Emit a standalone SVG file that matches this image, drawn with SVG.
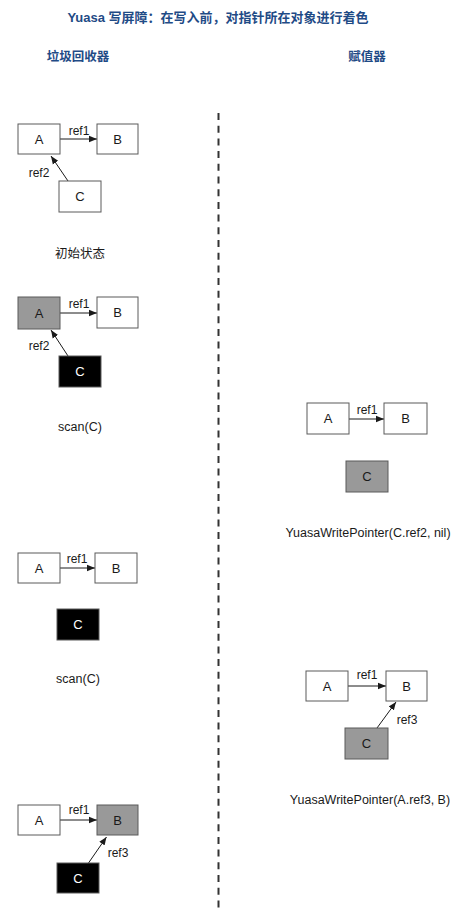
<svg xmlns="http://www.w3.org/2000/svg" width="469" height="912" viewBox="0 0 469 912">
<style>
text{font-family:"Liberation Sans","Noto Sans CJK SC",Arial,sans-serif;fill:#1a1a1a;}
.title{font-size:13px;font-weight:bold;fill:#1f4b86;}
.hdr{font-size:12.5px;font-weight:bold;fill:#1f4b86;}
.box{stroke:#5a5a5a;stroke-width:1;}
.w{fill:#ffffff;}
.g{fill:#999999;}
.k{fill:#000000;}
.lbl{font-size:12px;text-anchor:middle;}
.nl{font-size:13px;text-anchor:middle;}
.cap{font-size:12.5px;text-anchor:middle;}
.wt{fill:#ffffff;}
.edge{stroke:#1a1a1a;stroke-width:1;fill:none;marker-end:url(#ah);}
</style>
<defs>
<marker id="ah" viewBox="0 0 10 10" refX="10" refY="5" markerWidth="8" markerHeight="8" markerUnits="userSpaceOnUse" orient="auto">
<path d="M0,1 L10,5 L0,9 z" fill="#1a1a1a"/>
</marker>
</defs>
<rect width="469" height="912" fill="#ffffff"/>
<g id="title"><text class="title" x="218" y="22" text-anchor="middle">Yuasa 写屏障：在写入前，对指针所在对象进行着色</text></g>
<g id="headers">
<text class="hdr" x="78" y="61" text-anchor="middle">垃圾回收器</text>
<text class="hdr" x="367" y="61" text-anchor="middle">赋值器</text>
</g>
<g id="divider"><line x1="218.5" y1="113" x2="218.5" y2="912" stroke="#333" stroke-width="2" stroke-dasharray="7,5.7"/></g>

<g id="connectors">
<line class="edge" x1="60" y1="139" x2="97" y2="139"/>
<line class="edge" x1="68" y1="181" x2="51" y2="156"/>
<line class="edge" x1="60" y1="313" x2="97" y2="313"/>
<line class="edge" x1="68" y1="356" x2="51" y2="330"/>
<line class="edge" x1="349" y1="419" x2="384" y2="419"/>
<line class="edge" x1="60" y1="568" x2="95" y2="568"/>
<line class="edge" x1="348" y1="686" x2="386" y2="686"/>
<line class="edge" x1="377" y1="728" x2="396" y2="702"/>
<line class="edge" x1="60" y1="820" x2="97" y2="820"/>
<line class="edge" x1="88.5" y1="863" x2="106.5" y2="837"/>
</g>
<g id="edge-labels">
<text class="lbl" x="79" y="135">ref1</text>
<text class="lbl" x="39" y="177">ref2</text>
<text class="lbl" x="79" y="308">ref1</text>
<text class="lbl" x="39" y="350">ref2</text>
<text class="lbl" x="367" y="414">ref1</text>
<text class="lbl" x="77" y="563">ref1</text>
<text class="lbl" x="367" y="679">ref1</text>
<text class="lbl" x="407" y="724">ref3</text>
<text class="lbl" x="79" y="814">ref1</text>
<text class="lbl" x="118" y="857">ref3</text>
</g>

<g id="s1">
<g id="s1-A"><rect class="box w" x="18" y="124" width="42" height="30"/><text class="nl" x="39" y="143.5">A</text></g>
<g id="s1-B"><rect class="box w" x="97" y="124" width="41" height="30"/><text class="nl" x="117.5" y="143.5">B</text></g>
<g id="s1-C"><rect class="box w" x="59" y="181" width="42" height="31"/><text class="nl" x="80" y="201">C</text></g>
<text class="cap" x="80" y="258">初始状态</text>
</g>

<g id="s2">
<g id="s2-A"><rect class="box g" x="18" y="297" width="42" height="32"/><text class="nl" x="39" y="317.5">A</text></g>
<g id="s2-B"><rect class="box w" x="97" y="297" width="41" height="31"/><text class="nl" x="117.5" y="317">B</text></g>
<g id="s2-C"><rect class="box k" x="59" y="356" width="42" height="31"/><text class="nl wt" x="80" y="376">C</text></g>
<text class="cap" x="80" y="431">scan(C)</text>
</g>

<g id="s3">
<g id="s3-A"><rect class="box w" x="307" y="403" width="42" height="31"/><text class="nl" x="328" y="423">A</text></g>
<g id="s3-B"><rect class="box w" x="384" y="403" width="43" height="31"/><text class="nl" x="405.5" y="423">B</text></g>
<g id="s3-C"><rect class="box g" x="346" y="461" width="42" height="31"/><text class="nl" x="367" y="481">C</text></g>
<text class="cap" x="368" y="537">YuasaWritePointer(C.ref2, nil)</text>
</g>

<g id="s4">
<g id="s4-A"><rect class="box w" x="18" y="553" width="42" height="30"/><text class="nl" x="39" y="572.5">A</text></g>
<g id="s4-B"><rect class="box w" x="95" y="553" width="42" height="30"/><text class="nl" x="116" y="572.5">B</text></g>
<g id="s4-C"><rect class="box k" x="57" y="609" width="42" height="31"/><text class="nl wt" x="78" y="629">C</text></g>
<text class="cap" x="78" y="683">scan(C)</text>
</g>

<g id="s5">
<g id="s5-A"><rect class="box w" x="306" y="671" width="42" height="30"/><text class="nl" x="327" y="690.5">A</text></g>
<g id="s5-B"><rect class="box w" x="386" y="671" width="41" height="30"/><text class="nl" x="406.5" y="690.5">B</text></g>
<g id="s5-C"><rect class="box g" x="345" y="728" width="43" height="31"/><text class="nl" x="366.5" y="748">C</text></g>
<text class="cap" x="370" y="804">YuasaWritePointer(A.ref3, B)</text>
</g>

<g id="s6">
<g id="s6-A"><rect class="box w" x="18" y="805" width="42" height="30"/><text class="nl" x="39" y="824.5">A</text></g>
<g id="s6-B"><rect class="box g" x="97" y="805" width="41" height="30"/><text class="nl" x="117.5" y="824.5">B</text></g>
<g id="s6-C"><rect class="box k" x="57" y="863" width="42" height="30"/><text class="nl wt" x="78" y="882.5">C</text></g>
</g>
</svg>
